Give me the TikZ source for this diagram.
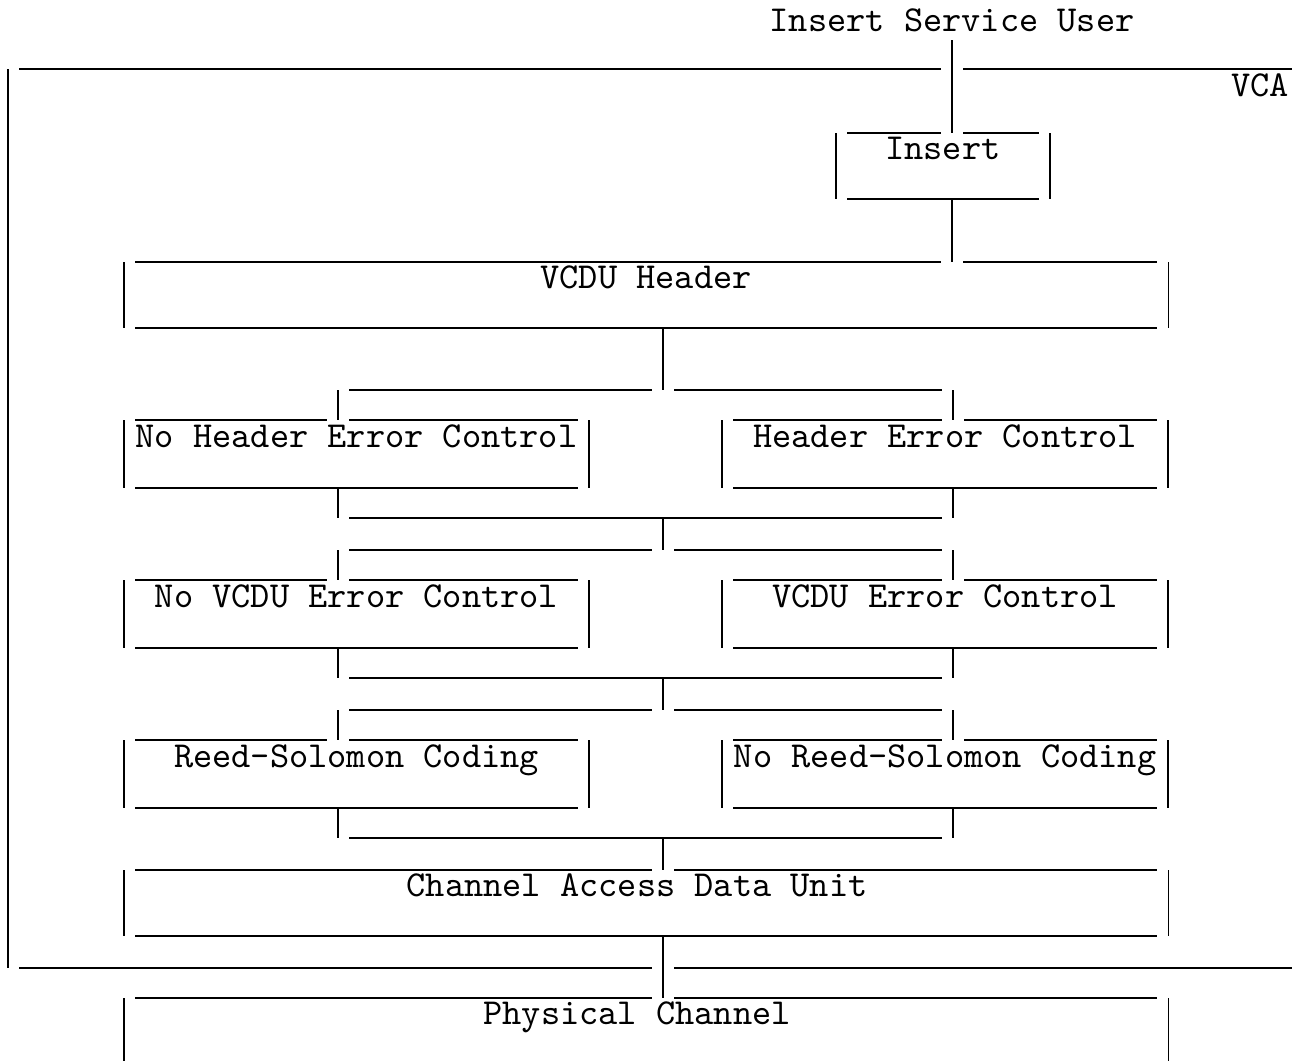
\documentclass[tikz,border=0pt]{standalone}
\usepackage{fontspec}
\usepackage{tikz}

\begin{document}
\begin{tikzpicture}[x=0.01cm, y=-0.01cm, line width=0.5pt,
    font=\ttfamily\fontsize{10.4}{12}\selectfont,
    unit/.style={anchor=north west, inner sep=0pt, minimum width=#1,
        text height=0.255cm, text depth=0.385cm},
    bar/.style={shorten <=0.11cm, shorten >=0.11cm}]

    \useasboundingbox (0,0) rectangle (1292,1060);

    % service user and the VCA layer
    \node[anchor=base] (user) at (952,31) {Insert Service User};
    \node[anchor=base east, inner sep=0pt] (vca) at (1290,96) {VCA};
    \coordinate (vnw) at (8,69);
    \coordinate (vsw) at (8,968);
    \coordinate (vne) at (1310,69);
    \coordinate (vse) at (1310,968);

    % boxes
    \node[unit=2.12cm] (insert) at (836,133) {Insert};
    \node[unit=10.42cm] (vcdu) at (124,262) {VCDU Header};
    \node[unit=4.63cm, minimum height=0.66cm] (nohec) at (124,420) {No Header Error Control};
    \node[unit=4.44cm, minimum height=0.66cm] (hec) at (722,420) {Header Error Control};
    \node[unit=4.63cm, minimum height=0.66cm] (novec) at (124,580) {No VCDU Error Control};
    \node[unit=4.44cm, minimum height=0.66cm] (vec) at (722,580) {VCDU Error Control};
    \node[unit=4.63cm, minimum height=0.66cm] (rs) at (124,740) {Reed-Solomon Coding};
    \node[unit=4.44cm, minimum height=0.66cm] (nors) at (722,740) {No Reed-Solomon Coding};
    \node[unit=10.42cm] (cadu) at (124,870) {Channel Access Data Unit\kern0.18cm};
    \node[unit=10.42cm] (phys) at (124,998) {Physical Channel\kern0.18cm};

    % fork and merge points
    \coordinate (lx) at (338,0);
    \coordinate (rx) at (953,0);
    \foreach \i/\y in {1/390,2/550,3/710}{
        \coordinate (f\i) at (663,\y);
        \coordinate (m\i) at (663,\y+128);
    }

    % box outlines, top line broken where the feed comes in
    \foreach \b/\e in {insert/user, vcdu/user, nohec/lx, hec/rx, novec/lx,
                       vec/rx, rs/lx, nors/rx, cadu/f1, phys/f1}{
        \draw[bar] (\b.north west) -- (\b.north -| \e);
        \draw[bar] (\b.north -| \e) -- (\b.north east);
        \draw[bar] (\b.south west) -- (\b.south east);
        \draw (\b.north west) -- (\b.south west);
        \draw (\b.north east) -- (\b.south east);
    }

    % VCA border
    \draw[bar] (vnw) -- (vnw -| user);
    \draw[bar] (vnw -| user) -- (vne);
    \draw (vnw) -- (vsw);
    \draw[bar] (vsw) -- (vsw -| f1);
    \draw[bar] (vsw -| f1) -- (vse);

    % connectors
    \draw ([yshift=-0.09cm]user.base) -- (insert.north -| user);
    \draw (insert.south -| user) -- (vcdu.north -| user);
    \draw (vcdu.south -| f1) -- (f1);
    \draw (m1) -- (f2);
    \draw (m2) -- (f3);
    \draw (m3) -- (cadu.north -| m3);
    \draw (cadu.south -| m3) -- (phys.north -| m3);
    \foreach \i/\l/\r in {1/nohec/hec, 2/novec/vec, 3/rs/nors}{
        \draw[bar] (f\i -| lx) -- (f\i);
        \draw[bar] (f\i) -- (f\i -| rx);
        \draw (f\i -| lx) -- (\l.north -| lx);
        \draw (f\i -| rx) -- (\r.north -| rx);
        \draw (\l.south -| lx) -- (m\i -| lx);
        \draw (\r.south -| rx) -- (m\i -| rx);
        \draw[bar] (m\i -| lx) -- (m\i -| rx);
    }
\end{tikzpicture}
\end{document}
